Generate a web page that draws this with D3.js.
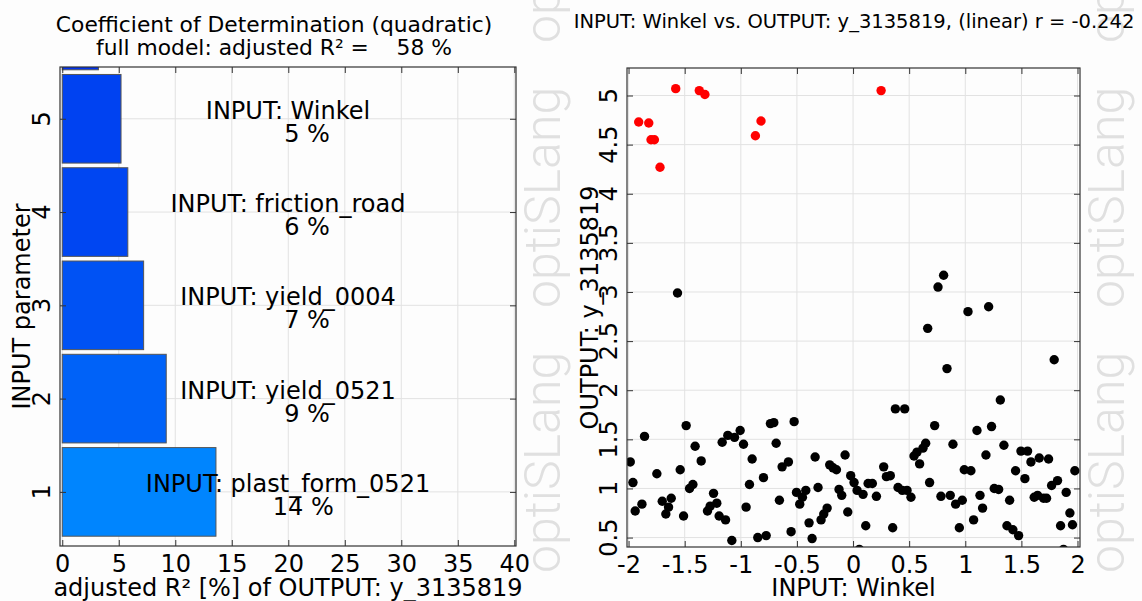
<!DOCTYPE html>
<html lang="en">
<head>
<meta charset="UTF-8">
<title>Coefficient of Determination and anthill plot</title>
<script src="https://d3js.org/d3.v7.min.js"></script>
<style>
  body { margin: 0; background: #fdfdfd; }
  svg { display: block; font-family: "DejaVu Sans", Verdana, sans-serif; }
  .wm { font-family: Roboto, Lato, sans-serif; font-weight: 300; fill: #e0e0e0; }
  .pre { white-space: pre; }
</style>
</head>
<body>
<div id="chart"></div>
<script>
// left panel: coefficient of determination per input parameter
const paramRank = [1, 2, 3, 4, 5, 6];
const paramNames = ["INPUT: plast_form_0521", "INPUT: yield_0521", "INPUT: yield_0004", "INPUT: friction_road", "INPUT: Winkel"];
const r2Values = [13.6, 9.2, 7.2, 5.8, 5.2, 3.2];
const fullModelR2 = 58;
const r2Ticks = [0, 5, 10, 15, 20, 25, 30, 35, 40];
const rankTicks = [1, 2, 3, 4, 5];

// right panel: Winkel vs. y_3135819
const winkel = [
  -1.564, -1.487, -1.858, -1.985, -1.961, -1.748, -1.540, -1.407, -1.353, -1.427,
  -1.457, -1.941, -1.881, -1.700, -1.620, -1.644, -1.668, -1.510, -1.243, -1.214,
  -1.273, -1.297, -1.193, -1.136, -1.080, -1.166, -1.116, -1.056, -1.006, -0.976,
  -0.899, -0.923, -0.798, -0.953, -0.849, -0.774, -0.736, -0.706, -0.525, -0.685,
  -0.632, -0.576, -0.656, -0.504, -0.421, -0.451, -0.475, -0.552, -0.392, -0.365,
  -0.338, -0.312, -0.285, -0.261, -0.231, -0.208, -0.178, -0.148, -0.071, -0.125,
  -0.101, -0.047, -0.021, 0.009, 0.036, 0.089, 0.134, 0.172, 0.208, 0.113,
  0.056, 0.273, 0.297, 0.332, 0.353, 0.377, 0.460, 0.401, 0.439, 0.481,
  0.516, 0.543, 0.570, 0.593, 0.623, 0.647, 0.665, 0.682, 0.807, 0.757,
  1.024, 1.208, 0.837, 1.792, 1.312, 0.727, 1.104, 1.234, 0.890, 1.344,
  1.184, 1.496, 1.555, 1.585, 1.659, 1.742, 0.991, 1.050, 1.448, 1.531,
  1.976, 1.258, 1.297, 1.769, 1.822, 0.783, 0.866, 0.914, 0.973, 1.131,
  1.395, 1.614, 1.644, 1.697, 1.724, 1.899, 1.154, 1.932, 0.947, 1.074,
  1.371, 1.424, 1.475, 1.849, 1.955, 1.875
];
const output = [
  2.99, 1.64, 1.53, 1.27, 1.06, 1.15, 1.19, 1.43, 1.28, 1.04,
  1.00, 0.77, 0.84, 0.87, 0.90, 0.81, 0.74, 0.72, 0.95, 0.85,
  0.82, 0.77, 0.72, 0.68, 0.47, 1.47, 1.54, 1.52, 1.59, 1.45,
  1.30, 1.04, 1.11, 0.81, 0.50, 0.52, 1.66, 1.67, 1.68, 1.46,
  1.22, 1.27, 0.88, 0.96, 0.98, 0.91, 0.84, 0.56, 0.65, 0.49,
  1.32, 1.01, 0.68, 0.74, 0.80, 1.24, 1.21, 1.19, 1.34, 0.99,
  0.93, 0.76, 1.13, 1.06, 0.98, 0.94, 1.05, 1.05, 0.92, 0.62,
  0.38, 1.22, 1.12, 1.13, 0.60, 1.81, 1.81, 1.01, 0.98, 0.98,
  0.91, 1.33, 1.37, 1.25, 1.41, 1.46, 2.63, 1.06, 3.17, 3.05,
  2.80, 2.85, 2.22, 2.31, 1.90, 1.64, 1.59, 1.63, 1.45, 1.44,
  1.34, 1.38, 1.38, 1.27, 1.31, 1.30, 1.19, 1.18, 1.18, 1.10,
  1.18, 1.00, 0.99, 1.03, 1.08, 0.92, 0.93, 0.84, 0.88, 0.93,
  0.88, 0.91, 0.93, 0.90, 0.90, 0.96, 0.80, 0.75, 0.60, 0.68,
  0.62, 0.58, 0.52, 0.62, 0.63, 0.38
];
// designs marked in red
const winkelMarked = [-1.91, -1.82, -1.80, -1.77, -1.72, -1.58, -1.37, -1.32, -0.87, -0.82, 0.25];
const outputMarked = [4.73, 4.72, 4.55, 4.55, 4.27, 5.07, 5.05, 5.01, 4.59, 4.74, 5.05];
const winkelTicks = [-2, -1.5, -1, -0.5, 0, 0.5, 1, 1.5, 2];
const outputTicks = [0.5, 1, 1.5, 2, 2.5, 3, 3.5, 4, 4.5, 5];
const linearR = -0.242;

const width = 1142, height = 601;
const pct = d3.format("6.0f");

const svg = d3.select("#chart").append("svg")
    .attr("width", width)
    .attr("height", height);

svg.append("rect").attr("width", width).attr("height", height).attr("fill", "#fdfdfd");

// watermark columns
const wmStarts = [573, 308, 43];
[560, 1124].forEach(x => {
    wmStarts.forEach(y => {
        svg.append("text").attr("class", "wm")
            .attr("transform", "translate(" + x + "," + y + ") rotate(-90)")
            .attr("font-size", 50)
            .text("optiSLang");
    });
});

function frameAxes(g, x, y, box, xt, yt, fmt) {
    g.append("g").attr("transform", "translate(0," + box.y1 + ")")
        .call(d3.axisBottom(x).tickValues(xt).tickSizeInner(-6).tickSizeOuter(0).tickPadding(9).tickFormat(fmt));
    g.append("g").attr("transform", "translate(0," + box.y0 + ")")
        .call(d3.axisTop(x).tickValues(xt).tickSizeInner(-6).tickSizeOuter(0).tickFormat(""));
    g.append("g").attr("transform", "translate(" + box.x0 + ",0)")
        .call(d3.axisLeft(y).tickValues(yt).tickSizeInner(-6).tickSizeOuter(0).tickFormat(""));
    g.append("g").attr("transform", "translate(" + box.x1 + ",0)")
        .call(d3.axisRight(y).tickValues(yt).tickSizeInner(-6).tickSizeOuter(0).tickFormat(""));
    g.selectAll(".domain").remove();
    g.selectAll(".tick line").attr("stroke", "#333");
    g.selectAll(".tick text").attr("font-size", 24).attr("fill", "#000")
        .attr("font-family", "DejaVu Sans, Verdana, sans-serif");
    g.append("rect")
        .attr("x", box.x0).attr("y", box.y0)
        .attr("width", box.x1 - box.x0).attr("height", box.y1 - box.y0)
        .attr("fill", "none").attr("stroke", "#333").attr("stroke-width", 1.2);
    // rotated y labels
    g.selectAll(".ylab").data(yt).join("text").attr("class", "ylab")
        .attr("transform", d => "translate(" + (box.x0 - 10) + "," + y(d) + ") rotate(-90)")
        .attr("text-anchor", "middle")
        .attr("font-size", 24)
        .text(d => String(d));
}

function grid(g, x, y, box, xt, yt) {
    g.selectAll(".vg").data(xt).join("line").attr("class", "vg")
        .attr("x1", d => x(d)).attr("x2", d => x(d))
        .attr("y1", box.y0).attr("y2", box.y1)
        .attr("stroke", "#e2e2e2");
    g.selectAll(".hg").data(yt).join("line").attr("class", "hg")
        .attr("x1", box.x0).attr("x2", box.x1)
        .attr("y1", d => y(d)).attr("y2", d => y(d))
        .attr("stroke", "#e2e2e2");
}

// ---------- left panel ----------
const L = {x0: 60, x1: 516, y0: 67, y1: 546};
const xL = d3.scaleLinear().domain([-0.2, 40.15]).range([L.x0, L.x1]);
const yL = d3.scaleLinear().domain([0.42, 5.555]).range([L.y1, L.y0]);
const barColor = d3.scaleLinear().domain([3, 14]).range(["#0030ee", "#0088ff"]);
const barH = 0.95;

const gL = svg.append("g");
svg.append("clipPath").attr("id", "clipL").append("rect")
    .attr("x", L.x0).attr("y", L.y0).attr("width", L.x1 - L.x0).attr("height", L.y1 - L.y0);

grid(gL, xL, yL, L, r2Ticks, rankTicks);

gL.append("g").attr("clip-path", "url(#clipL)")
    .selectAll("rect").data(r2Values).join("rect")
    .attr("x", xL(0))
    .attr("y", (d, i) => yL(paramRank[i] + barH / 2))
    .attr("width", d => xL(d) - xL(0))
    .attr("height", yL(0) - yL(barH))
    .attr("fill", d => barColor(d))
    .attr("stroke", "#555")
    .attr("stroke-width", 1);

const labG = gL.append("g").attr("clip-path", "url(#clipL)").attr("text-anchor", "middle").attr("font-size", 24);
labG.selectAll(".nm").data(paramNames).join("text").attr("class", "nm")
    .attr("x", (L.x0 + L.x1) / 2)
    .attr("y", (d, i) => yL(paramRank[i]))
    .text(d => d);
labG.selectAll(".pc").data(paramNames).join("text").attr("class", "pc pre")
    .attr("x", (L.x0 + L.x1) / 2)
    .attr("y", (d, i) => yL(paramRank[i]) + 23)
    .text((d, i) => pct(r2Values[i]) + " %");

frameAxes(gL, xL, yL, L, r2Ticks, rankTicks, d3.format("d"));

gL.append("text").attr("transform", "translate(30," + (L.y0 + L.y1) / 2 + ") rotate(-90)")
    .attr("text-anchor", "middle").attr("font-size", 24).text("INPUT parameter");
gL.append("text").attr("x", (L.x0 + L.x1) / 2).attr("y", 596)
    .attr("text-anchor", "middle").attr("font-size", 24).text("adjusted R² [%] of OUTPUT: y_3135819");
gL.append("text").attr("x", 274).attr("y", 32)
    .attr("text-anchor", "middle").attr("font-size", 21.8).text("Coefficient of Determination (quadratic)");
gL.append("text").attr("class", "pre").attr("x", 274).attr("y", 55)
    .attr("text-anchor", "middle").attr("font-size", 21.8)
    .text("full model: adjusted R² =" + pct(fullModelR2) + " %");

// ---------- right panel ----------
const R = {x0: 627, x1: 1080, y0: 68, y1: 547};
const xR = d3.scaleLinear().domain([-2.014, 2.022]).range([R.x0, R.x1]);
const yR = d3.scaleLinear().domain([0.404, 5.28]).range([R.y1, R.y0]);

const gR = svg.append("g");
svg.append("clipPath").attr("id", "clipR").append("rect")
    .attr("x", R.x0).attr("y", R.y0).attr("width", R.x1 - R.x0).attr("height", R.y1 - R.y0);

grid(gR, xR, yR, R, winkelTicks, outputTicks);

const dots = gR.append("g").attr("clip-path", "url(#clipR)");
dots.selectAll(".pt").data(winkel).join("circle").attr("class", "pt")
    .attr("cx", d => xR(d))
    .attr("cy", (d, i) => yR(output[i]))
    .attr("r", 4.7)
    .attr("fill", "#000");
dots.selectAll(".mk").data(winkelMarked).join("circle").attr("class", "mk")
    .attr("cx", d => xR(d))
    .attr("cy", (d, i) => yR(outputMarked[i]))
    .attr("r", 4.7)
    .attr("fill", "#ff0000");

frameAxes(gR, xR, yR, R, winkelTicks, outputTicks, d => String(d));

gR.append("text").attr("transform", "translate(598," + (R.y0 + R.y1) / 2 + ") rotate(-90)")
    .attr("text-anchor", "middle").attr("font-size", 24).text("OUTPUT: y_3135819");
gR.append("text").attr("x", (R.x0 + R.x1) / 2).attr("y", 596)
    .attr("text-anchor", "middle").attr("font-size", 24).text("INPUT: Winkel");
gR.append("text").attr("x", 854).attr("y", 28)
    .attr("text-anchor", "middle").attr("font-size", 19.5)
    .text("INPUT: Winkel vs. OUTPUT: y_3135819, (linear) r = " + linearR.toFixed(3));
</script>
</body>
</html>
